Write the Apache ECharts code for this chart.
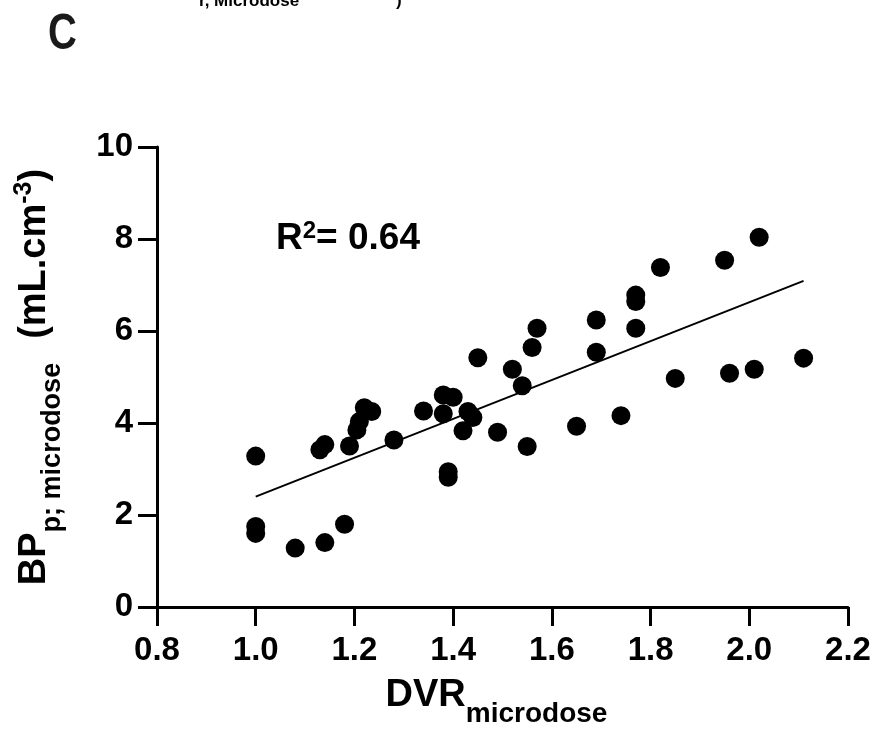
<!DOCTYPE html>
<html>
<head>
<meta charset="utf-8">
<script src="https://cdn.jsdelivr.net/npm/echarts@6/dist/echarts.min.js"></script>
<style>
  html, body { margin: 0; padding: 0; background: #fff; }
  #chart { width: 879px; height: 737px; }
</style>
</head>
<body>
<div id="chart"></div>
<script>
// DVR (x) vs BP (y)
const dvrValues = [
  1.00, 1.00, 1.00, 1.08, 1.14, 1.18, 1.13, 1.14, 1.19, 1.205, 1.21,
  1.22, 1.235, 1.28, 1.34, 1.38, 1.40, 1.38, 1.43, 1.44, 1.42, 1.45,
  1.49, 1.39, 1.39, 1.52, 1.54, 1.56, 1.57, 1.55, 1.65, 1.69, 1.69,
  1.74, 1.77, 1.77, 1.77, 1.82, 1.95, 1.85, 1.96, 2.01, 2.11, 2.02
]
const bpValues = [
  3.28, 1.75, 1.60, 1.28, 1.40, 1.80, 3.42, 3.53, 3.50, 3.85, 4.03,
  4.33, 4.25, 3.63, 4.26, 4.61, 4.56, 4.20, 4.25, 4.12, 3.83, 5.42,
  3.80, 2.94, 2.82, 5.17, 4.81, 5.64, 6.06, 3.49, 3.93, 6.24, 5.54,
  4.16, 6.06, 6.64, 6.78, 7.38, 7.54, 4.97, 5.08, 5.17, 5.41, 8.04
]
// regression line end points
const fitX = [1.00, 2.11]
const fitY = [2.40, 7.09]

const xTicks = { min: 0.8, max: 2.2, interval: 0.2 }
const yTicks = { min: 0, max: 10, interval: 2 }

const FONT = '"Liberation Sans", Arial, sans-serif'

const points = dvrValues.map((x, i) => [x, bpValues[i]])
const fitLine = fitX.map((x, i) => [x, fitY[i]])

const bold = (size, extra) => Object.assign({
  fontSize: size, fontWeight: 'bold', fontFamily: FONT, color: '#000'
}, extra)

const chart = echarts.init(document.getElementById('chart'))

chart.setOption({
  animation: false,
  backgroundColor: '#fff',
  textStyle: { fontFamily: FONT },
  grid: {
    left: 157,
    right: 31,
    top: 147,
    bottom: 130,
    outerBoundsMode: 'none'
  },
  xAxis: {
    type: 'value',
    min: xTicks.min,
    max: xTicks.max,
    interval: xTicks.interval,
    splitLine: { show: false },
    axisLine: { lineStyle: { color: '#000', width: 3 } },
    axisTick: { length: 19, lineStyle: { color: '#000', width: 3 } },
    axisLabel: {
      color: '#000',
      fontSize: 33,
      fontWeight: 'bold',
      fontFamily: FONT,
      margin: 27,
      formatter: v => v.toFixed(1)
    },
    name: '{b|DVR}{s|microdose}',
    nameLocation: 'middle',
    nameGap: 68,
    nameMoveOverlap: false,
    nameTextStyle: {
      padding: [0, 12, 0, 0],
      rich: {
        b: bold(38, { lineHeight: 42 }),
        s: bold(28, { lineHeight: 28, padding: [37, 0, 0, 0] })
      }
    }
  },
  yAxis: {
    type: 'value',
    min: yTicks.min,
    max: yTicks.max,
    interval: yTicks.interval,
    splitLine: { show: false },
    axisLine: { show: true, lineStyle: { color: '#000', width: 3 } },
    axisTick: { show: true, length: 19, lineStyle: { color: '#000', width: 3 } },
    axisLabel: {
      color: '#000',
      fontSize: 33,
      fontWeight: 'bold',
      fontFamily: FONT,
      margin: 24
    },
    name: '{b|BP}{s|p; microdose}{g| }{b|(mL.cm}{u|-3}{b|)}',
    nameLocation: 'middle',
    nameRotate: 90,
    nameGap: 101,
    nameMoveOverlap: false,
    nameTextStyle: {
      rich: {
        b: bold(38, { lineHeight: 42 }),
        s: bold(27, { lineHeight: 27, padding: [36, 0, 0, 0] }),
        g: { fontSize: 20, lineHeight: 20, width: 24 },
        u: bold(25, { lineHeight: 25, padding: [0, 0, 21, 0] })
      }
    }
  },
  graphic: [
    {
      type: 'text',
      x: 48,
      y: 10,
      scaleX: 0.8,
      style: {
        text: 'C', fontSize: 50, fontWeight: 'bold', fontFamily: FONT,
        fill: '#1a1a1a', verticalAlign: 'top'
      }
    },
    {
      type: 'text',
      x: 199,
      y: 1,
      style: {
        text: 'r, Microdose',
        fontSize: 17, fontWeight: 'bold', fontFamily: FONT,
        fill: '#000', verticalAlign: 'middle'
      }
    },
    {
      type: 'text',
      x: 396,
      y: 1,
      style: {
        text: ')',
        fontSize: 17, fontWeight: 'bold', fontFamily: FONT,
        fill: '#000', verticalAlign: 'middle'
      }
    },
    {
      type: 'text',
      left: 276,
      top: 219,
      style: {
        text: '{b|R}{u|2}{b|= 0.64}',
        rich: {
          b: { fontSize: 37, fontWeight: 'bold', fontFamily: FONT, fill: '#000', lineHeight: 40 },
          u: { fontSize: 24, fontWeight: 'bold', fontFamily: FONT, fill: '#000', lineHeight: 24, padding: [0, 0, 16, 0] }
        }
      }
    }
  ],
  series: [
    {
      type: 'scatter',
      data: points,
      symbol: 'circle',
      symbolSize: 19,
      itemStyle: { color: '#000', opacity: 1 },
      z: 3
    },
    {
      type: 'line',
      data: fitLine,
      symbol: 'none',
      lineStyle: { color: '#000', width: 2 },
      z: 2
    }
  ]
})
</script>
</body>
</html>
